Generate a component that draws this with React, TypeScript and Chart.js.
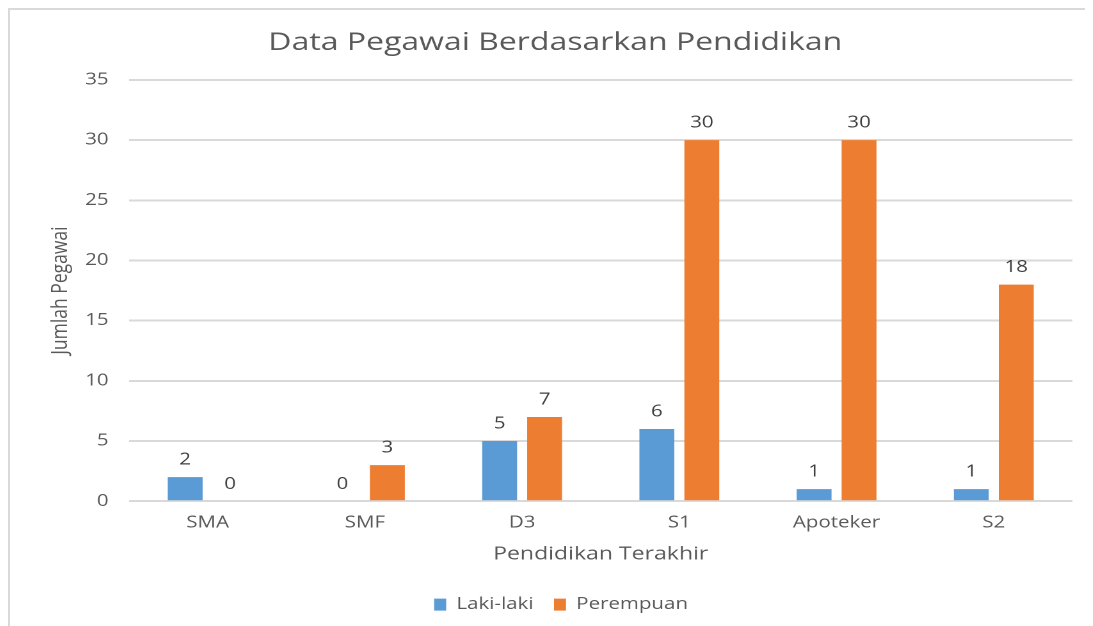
import React, { useEffect, useRef } from "react";
import { Chart, registerables } from "chart.js";

Chart.register(...registerables);

const categories = ["SMA", "SMF", "D3", "S1", "Apoteker", "S2"];
const lakiLaki = [2, 0, 5, 6, 1, 1];
const perempuan = [0, 3, 7, 30, 30, 18];
const seriesNames = ["Laki-laki", "Perempuan"];
const yTicks = [0, 5, 10, 15, 20, 25, 30, 35];

const TITLE = "Data Pegawai Berdasarkan Pendidikan";
const X_TITLE = "Pendidikan Terakhir";
const Y_TITLE = "Jumlah Pegawai";

const STRETCH = 1.28;
const BOX_W = 1083;
const BOX_H = 619;
const LOGICAL_W = Math.round(BOX_W / STRETCH);

const FONT = "'Open Sans', 'DejaVu Sans', sans-serif";
const TEXT = "#595959";

const valueLabels = {
  id: "valueLabels",
  afterDatasetsDraw(chart: any) {
    const { ctx } = chart;
    ctx.save();
    ctx.font = `16px ${FONT}`;
    ctx.fillStyle = "#404040";
    ctx.textAlign = "center";
    ctx.textBaseline = "middle";
    chart.data.datasets.forEach((ds: any, i: number) => {
      const meta = chart.getDatasetMeta(i);
      meta.data.forEach((el: any, j: number) => {
        ctx.fillText(String(ds.data[j]), el.x, el.y - 17);
      });
    });
    ctx.restore();
  },
};

const legendShift = {
  id: "legendShift",
  beforeDraw(chart: any) {
    const lg = chart.legend;
    if (lg && !lg._shifted) {
      lg.left += 4.5;
      lg.right += 4.5;
      lg._shifted = true;
    }
  },
  afterLayout(chart: any) {
    if (chart.legend) chart.legend._shifted = false;
  },
};

export default function App() {
  const ref = useRef<HTMLCanvasElement>(null);
  useEffect(() => {
    document.documentElement.style.overflow = "hidden";
    document.body.style.overflow = "hidden";
    if (!ref.current) return;
    const chart = new Chart(ref.current, {
      type: "bar",
      data: {
        labels: categories,
        datasets: [
          {
            label: seriesNames[0],
            data: lakiLaki,
            backgroundColor: "#5B9BD5",
            categoryPercentage: 0.572,
            barPercentage: 0.776,
          },
          {
            label: seriesNames[1],
            data: perempuan,
            backgroundColor: "#ED7D31",
            categoryPercentage: 0.572,
            barPercentage: 0.776,
          },
        ],
      },
      options: {
        responsive: false,
        animation: false,
        devicePixelRatio: 2,
        layout: { padding: { left: 22, right: 16, top: 0, bottom: 6.4 } },
        plugins: {
          title: {
            display: true,
            text: TITLE,
            color: TEXT,
            font: { family: FONT, size: 25, weight: "normal" },
            padding: { top: 18, bottom: 22 },
          },
          legend: {
            position: "bottom",
            labels: {
              color: TEXT,
              font: { family: FONT, size: 16 },
              boxWidth: 9.4,
              boxHeight: 12,
              padding: 16,
            },
          },
          tooltip: { enabled: false },
        },
        scales: {
          x: {
            grid: { display: false, drawTicks: false },
            border: { display: false },
            ticks: { color: TEXT, font: { family: FONT, size: 16 }, padding: 12 },
            title: {
              display: true,
              text: X_TITLE,
              color: TEXT,
              font: { family: FONT, size: 18 },
              padding: { top: -1, bottom: 15.6 },
            },
          },
          y: {
            min: 0,
            max: 35,
            afterFit(scale: any) {
              scale.width = 71;
            },
            afterBuildTicks(scale: any) {
              scale.ticks = yTicks.map((v) => ({ value: v }));
            },
            grid: { color: "#d9d9d9", lineWidth: 2, drawTicks: false },
            border: { display: false },
            ticks: { color: TEXT, font: { family: FONT, size: 16 }, padding: 16 },
            title: {
              display: true,
              text: Y_TITLE,
              color: TEXT,
              font: { family: FONT, size: 17.5 },
              padding: { top: 7, bottom: 0 },
            },
          },
        },
      },
      plugins: [valueLabels, legendShift],
    });
    return () => chart.destroy();
  }, []);

  return (
    <div
      style={{
        borderTop: "2px solid #d9d9d9",
        borderLeft: "2px solid #d9d9d9",
        width: BOX_W + 40,
        height: BOX_H,
        overflow: "hidden",
        background: "#fff",
      }}
    >
      <div
        style={{
          width: LOGICAL_W,
          height: BOX_H,
          transform: `scaleX(${STRETCH})`,
          transformOrigin: "0 0",
        }}
      >
        <canvas ref={ref} width={LOGICAL_W} height={BOX_H} />
      </div>
    </div>
  );
}
